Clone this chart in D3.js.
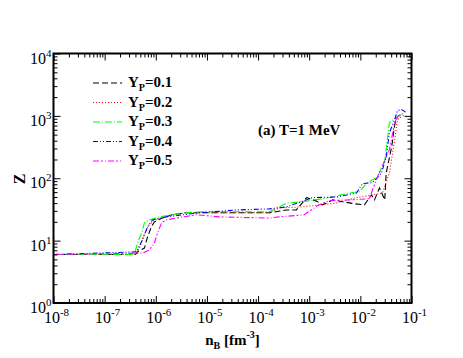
<!DOCTYPE html>
<html>
<head>
<meta charset="utf-8">
<script src="https://cdn.jsdelivr.net/npm/d3@7"></script>
<style>
  body { margin: 0; background: #fff; }
  svg { display: block; }
</style>
</head>
<body>
<svg id="chart" width="463" height="358"></svg>
<script>
// ---- data ----
const xTickExponents = [-8, -7, -6, -5, -4, -3, -2, -1];
const yTickExponents = [0, 1, 2, 3, 4];
const seriesLabels = ["0.1", "0.2", "0.3", "0.4", "0.5"];

const nB_yp01 = [1e-8, 4.0e-7, 4.4e-7, 6.0e-7, 6.9e-7, 8.2e-7, 9.4e-7, 1.35e-6, 2.1e-6, 4.0e-6, 1.76e-5, 1.67e-4, 3.6e-4, 5.6e-4, 8.9e-4, 1.39e-3, 1.82e-3, 2.9e-3, 4.5e-3, 7.7e-3, 1.2e-2, 1.65e-2, 1.89e-2, 2.37e-2, 3.0e-2, 3.2e-2, 4.1e-2, 4.7e-2, 5.3e-2, 6.4e-2];
const Z_yp01  = [6, 6, 6.6, 7.6, 11.5, 16.6, 20, 23, 26, 28, 28, 28, 31, 31, 49, 43, 37.5, 45, 42, 39, 37.5, 54, 45, 70, 45, 122, 321, 723, 973, 1050];

const nB_yp02 = [1e-8, 4.0e-7, 4.8e-7, 5.8e-7, 7.2e-7, 9.0e-7, 1.3e-6, 2.1e-6, 4.0e-6, 1.67e-4, 2.6e-4, 7.4e-4, 1.59e-3, 3.4e-3, 8.4e-3, 1.32e-2, 2.7e-2, 3.7e-2, 4.7e-2, 5.3e-2, 7.3e-2];
const Z_yp02  = [6, 6, 7.6, 11.9, 17.3, 21, 23, 26, 28, 28, 33.5, 34.7, 37.5, 40, 49, 52, 58, 122, 415, 871, 1047];

const nB_yp03 = [1e-8, 3.8e-7, 4.4e-7, 5.3e-7, 6.0e-7, 7.5e-7, 1.18e-6, 2.1e-6, 4.0e-6, 8.2e-6, 1.67e-4, 3.6e-4, 7.4e-4, 2.5e-3, 6.1e-3, 9.6e-3, 1.32e-2, 2.17e-2, 3.0e-2, 3.7e-2, 4.7e-2, 6.7e-2];
const Z_yp03  = [6, 6, 9.2, 13.3, 19.3, 21.5, 24, 26, 28, 29, 29, 40, 42, 49, 58, 61, 82, 106, 190, 780, 900, 1100];

const nB_yp04 = [1e-8, 4.2e-7, 5.5e-7, 6.9e-7, 8.6e-7, 1.6e-6, 7.2e-6, 3.8e-5, 1.67e-4, 3.6e-4, 1.16e-3, 3.4e-3, 8.4e-3, 1.1e-2, 1.73e-2, 2.6e-2, 3.2e-2, 3.7e-2, 4.7e-2, 5.3e-2, 6.4e-2, 8.0e-2];
const Z_yp04  = [6, 6.6, 10.3, 16.6, 21.5, 24, 28, 31, 32.3, 34.7, 49, 50, 58, 82, 85, 122, 221, 538, 871, 1213, 1260, 1127];

const nB_yp05 = [1e-8, 5.5e-7, 7.5e-7, 9.4e-7, 1.08e-6, 1.3e-6, 1.6e-6, 2.5e-6, 6.3e-6, 1.76e-5, 1.67e-4, 2.6e-4, 8.0e-4, 1.5e-3, 2.5e-3, 6.1e-3, 1.51e-2, 1.73e-2, 2.17e-2, 3.7e-2, 4.7e-2, 5.3e-2, 7.3e-2];
const Z_yp05  = [6, 6.3, 7.1, 9.2, 13.3, 19.3, 21.5, 23, 26, 24, 23, 24, 26, 37, 44, 45, 47, 65, 106, 287, 780, 973, 1127];

const seriesN = [nB_yp01, nB_yp02, nB_yp03, nB_yp04, nB_yp05];
const seriesZ = [Z_yp01, Z_yp02, Z_yp03, Z_yp04, Z_yp05];
const seriesColors = ["#000000", "#ff0000", "#00ff00", "#0000ff", "#ff00ff"];
const seriesDash = ["6,3", "1,2", "7,2,1,2", "5,2,1,2,1,2", "6,2,2,2,1,2"];

// ---- layout ----
const svg = d3.select("#chart");
const L = 53.5, R = 411.5, T = 53.5, B = 303;
const SERIF = '"Liberation Serif"';

const x = d3.scaleLog().domain([1e-8, 1e-1]).range([L, R]);
const y = d3.scaleLog().domain([1, 1e4]).range([B, T]);

svg.append("rect").attr("width", 463).attr("height", 358).attr("fill", "#fff");

// clip
svg.append("defs").append("clipPath").attr("id", "clip")
  .append("rect").attr("x", L).attr("y", T).attr("width", R - L).attr("height", B - T);

// curves
const line = d3.line().x(d => x(d[0])).y(d => y(d[1]));
const gCurves = svg.append("g").attr("clip-path", "url(#clip)");
seriesN.forEach((ns, i) => {
  const pts = ns.map((n, j) => [n, seriesZ[i][j]]);
  gCurves.append("path").datum(pts)
    .attr("d", line)
    .attr("fill", "none")
    .attr("stroke", seriesColors[i])
    .attr("stroke-width", 1.1)
    .attr("stroke-dasharray", seriesDash[i]);
});

// ticks
const xMajor = xTickExponents.map(e => Math.pow(10, e));
const yMajor = yTickExponents.map(e => Math.pow(10, e));
const xMinor = x.ticks().filter(v => !xMajor.some(m => Math.abs(v / m - 1) < 1e-6));
const yMinor = y.ticks().filter(v => !yMajor.some(m => Math.abs(v / m - 1) < 1e-6));

function styleAxis(g) {
  g.select(".domain").remove();
  g.selectAll(".tick line").attr("stroke", "#000").attr("stroke-width", 1);
  g.selectAll(".tick text").remove();
}
svg.append("g").attr("transform", `translate(0,${B})`).call(d3.axisBottom(x).tickValues(xMajor).tickSize(-7)).call(styleAxis);
svg.append("g").attr("transform", `translate(0,${B})`).call(d3.axisBottom(x).tickValues(xMinor).tickSize(-4)).call(styleAxis);
svg.append("g").attr("transform", `translate(0,${T})`).call(d3.axisTop(x).tickValues(xMajor).tickSize(-7)).call(styleAxis);
svg.append("g").attr("transform", `translate(0,${T})`).call(d3.axisTop(x).tickValues(xMinor).tickSize(-4)).call(styleAxis);
svg.append("g").attr("transform", `translate(${L},0)`).call(d3.axisLeft(y).tickValues(yMajor).tickSize(-7)).call(styleAxis);
svg.append("g").attr("transform", `translate(${L},0)`).call(d3.axisLeft(y).tickValues(yMinor).tickSize(-4)).call(styleAxis);
svg.append("g").attr("transform", `translate(${R},0)`).call(d3.axisRight(y).tickValues(yMajor).tickSize(-7)).call(styleAxis);
svg.append("g").attr("transform", `translate(${R},0)`).call(d3.axisRight(y).tickValues(yMinor).tickSize(-4)).call(styleAxis);

// frame
svg.append("rect").attr("x", L).attr("y", T).attr("width", R - L).attr("height", B - T)
  .attr("fill", "none").attr("stroke", "#000").attr("stroke-width", 2);

// tick labels
xTickExponents.forEach(e => {
  const t = svg.append("text").attr("x", x(Math.pow(10, e)) + 3).attr("y", B + 20)
    .attr("text-anchor", "middle").style("font-family", SERIF).style("font-size", "16px");
  t.append("tspan").text("10");
  t.append("tspan").style("font-size", "11px").attr("dy", -7).text(String(e));
});
yTickExponents.forEach(e => {
  const t = svg.append("text").attr("x", L - 2).attr("y", y(Math.pow(10, e)) + 10)
    .attr("text-anchor", "end").style("font-family", SERIF).style("font-size", "16px");
  t.append("tspan").text("10");
  t.append("tspan").style("font-size", "11px").attr("dy", -7).text(String(e));
});

// axis titles
const xt = svg.append("text").attr("x", (L + R) / 2).attr("y", 345)
  .attr("text-anchor", "middle").style("font-family", SERIF).style("font-size", "15px").style("font-weight", "bold");
xt.append("tspan").text("n");
xt.append("tspan").style("font-size", "10px").attr("dy", 4).text("B");
xt.append("tspan").attr("dy", -4).text(" [fm");
xt.append("tspan").style("font-size", "10px").attr("dy", -7).text("-3");
xt.append("tspan").attr("dy", 7).text("]");

svg.append("text").attr("transform", "translate(25,179) rotate(-90)")
  .attr("text-anchor", "middle").style("font-family", SERIF).style("font-size", "16px")
  .style("font-weight", "bold").text("Z");

// annotation
svg.append("text").attr("x", 258).attr("y", 135).style("font-family", SERIF)
  .style("font-size", "15px").style("font-weight", "bold").text("(a) T=1 MeV");

// legend
const legY0 = 83, legDy = 19.5;
seriesLabels.forEach((lab, i) => {
  const yy = legY0 + i * legDy;
  svg.append("line").attr("x1", 93).attr("x2", 122).attr("y1", yy).attr("y2", yy)
    .attr("stroke", seriesColors[i]).attr("stroke-width", 1.1).attr("stroke-dasharray", seriesDash[i]);
  const t = svg.append("text").attr("x", 128).attr("y", yy + 4)
    .style("font-family", SERIF).style("font-size", "15px").style("font-weight", "bold");
  t.append("tspan").text("Y");
  t.append("tspan").style("font-size", "10px").attr("dy", 4).text("P");
  t.append("tspan").attr("dy", -4).text("=" + lab);
});
</script>
</body>
</html>
